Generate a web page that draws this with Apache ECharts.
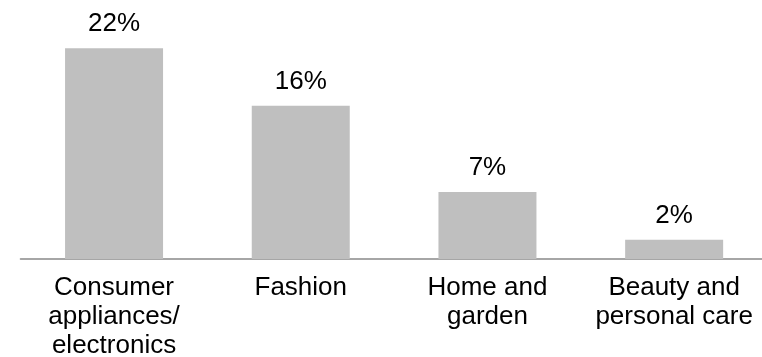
<!DOCTYPE html>
<html>
<head>
<meta charset="utf-8">
<script src="https://cdn.jsdelivr.net/npm/echarts@6/dist/echarts.min.js"></script>
<style>
  html, body { margin: 0; padding: 0; background: #fff; }
  #chart { width: 762px; height: 357px; }
</style>
</head>
<body>
<div id="chart"></div>
<script>
// categories and shares (percent)
var categories = [
  'Consumer\nappliances/\nelectronics',
  'Fashion',
  'Home and\ngarden',
  'Beauty and\npersonal care'
]
var shares = [22, 16, 7, 2]

var chart = echarts.init(document.getElementById('chart'))
chart.setOption({
  animation: false,
  textStyle: { fontFamily: 'Liberation Sans, Arial, sans-serif' },
  grid: {
    left: 20.7,
    right: -5.5,
    top: 48.3,
    bottom: 98,
    outerBoundsMode: 'none'
  },
  xAxis: {
    type: 'category',
    data: categories,
    axisTick: { show: false },
    axisLine: { lineStyle: { color: '#a6a6a6', width: 2 } },
    axisLabel: {
      interval: 0,
      color: '#000',
      fontSize: 26,
      lineHeight: 29,
      margin: 14
    }
  },
  yAxis: {
    type: 'value',
    min: 0,
    max: 22,
    show: false,
    splitLine: { show: false }
  },
  series: [{
    type: 'bar',
    data: shares,
    barWidth: 98,
    itemStyle: { color: '#bfbfbf' },
    label: {
      show: true,
      position: 'top',
      distance: 11,
      color: '#000',
      fontSize: 26,
      formatter: '{c}%'
    }
  }]
})
</script>
</body>
</html>
